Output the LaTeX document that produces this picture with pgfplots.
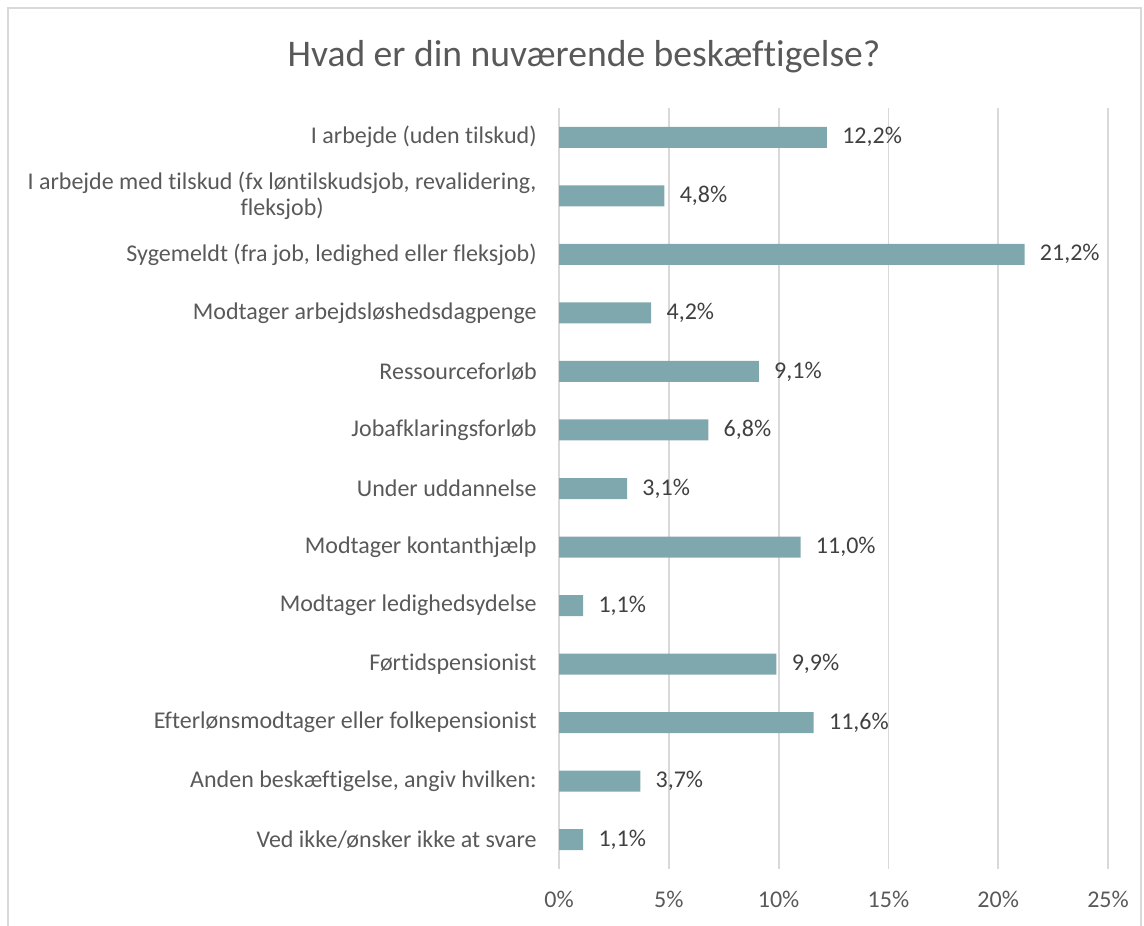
\documentclass[border=0pt]{standalone}
\usepackage{fontspec}
\setmainfont{Carlito}[Ligatures=NoCommon]
\usepackage{pgfplots}
\pgfplotsset{compat=1.18}

\definecolor{barteal}{HTML}{7FA8AE}
\definecolor{gridgray}{HTML}{D9D9D9}
\definecolor{labgray}{HTML}{595959}
\definecolor{valgray}{HTML}{404040}
\definecolor{framegray}{HTML}{D9D9D9}

\begin{document}
\begin{tikzpicture}
% page = 1144 x 925 px at 0.5pt per px
\path[use as bounding box] (0,0) rectangle (572pt,462.5pt);
\draw[framegray, line width=0.6pt] (4pt,-2pt) -- (4pt,458.5pt) -- (570.5pt,458.5pt) -- (570.5pt,-2pt);

\node[font=\fontsize{18.8}{22}\selectfont, text=labgray] at (292pt,434pt)
  {Hvad er din nuværende beskæftigelse?};

\begin{axis}[
    at={(279.5pt,28pt)}, anchor=south west,
    scale only axis,
    width=274.5pt, height=380.5pt,
    xbar, bar width=10.5pt, bar shift=0pt,
    xmin=0, xmax=25,
    xtick={0,5,10,15,20,25},
    xticklabels={0\%,5\%,10\%,15\%,20\%,25\%},
    ymin=-0.5, ymax=12.5, y dir=reverse,
    ytick={0,...,12},
    yticklabels={
      I arbejde (uden tilskud),
      {I arbejde med tilskud (fx løntilskudsjob, revalidering,\\fleksjob)},
      {Sygemeldt (fra job, ledighed eller fleksjob)},
      Modtager arbejdsløshedsdagpenge,
      Ressourceforløb,
      Jobafklaringsforløb,
      Under uddannelse,
      Modtager kontanthjælp,
      Modtager ledighedsydelse,
      Førtidspensionist,
      Efterlønsmodtager eller folkepension\-ist,
      {Anden beskæftigelse, angiv hvilken:},
      Ved ikke/ønsker ikke at svare},
    major tick length=0pt,
    axis line style={draw=none},
    xmajorgrids, grid style={gridgray, line width=0.9pt},
    /pgf/number format/assume math mode=true,
    tick label style={font=\fontsize{12}{13}\selectfont, text=labgray},
    yticklabel style={align=center, inner sep=0pt, xshift=-11pt},
    xticklabel style={inner sep=0pt, yshift=-11pt},
    nodes near coords={\pgfmathprintnumber[fixed,fixed zerofill,precision=1,use comma]{\pgfplotspointmeta}\%},
    nodes near coords style={font=\fontsize{12}{13}\selectfont, text=valgray, anchor=west, inner sep=0pt, xshift=7.5pt},
    point meta=x,
]
\addplot[fill=barteal, draw=none] coordinates {
    (12.2,0) (4.8,1) (21.2,2) (4.2,3) (9.1,4) (6.8,5) (3.1,6)
    (11.0,7) (1.1,8) (9.9,9) (11.6,10) (3.7,11) (1.1,12)
};
\end{axis}
\end{tikzpicture}
\end{document}
